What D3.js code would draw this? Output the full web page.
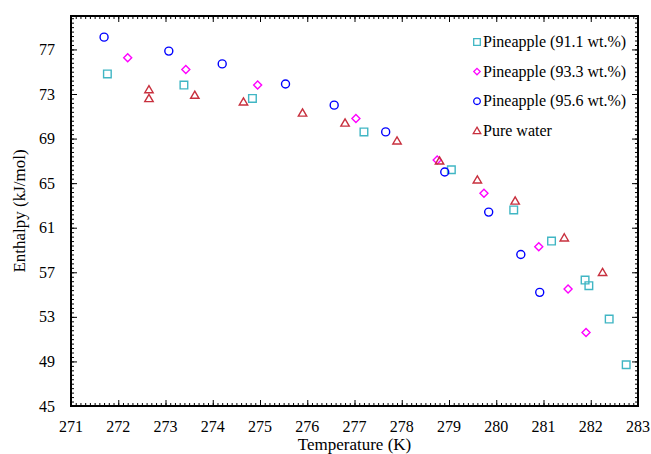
<!DOCTYPE html>
<html lang="en">
<head>
    <meta charset="utf-8">
    <title>Enthalpy vs temperature</title>
    <script type="text/javascript" src="https://cdnjs.cloudflare.com/ajax/libs/d3/7.8.5/d3.min.js"></script>
    <style type="text/css">
        body { margin: 0; background: #fff; }
        svg text { font-family: "Liberation Serif", "Times New Roman", Times, "DejaVu Serif", serif; }
    </style>
</head>
<body>
<script type="text/javascript">

    // data: [temperature K, enthalpy kJ/mol]
    var pine911 = [[271.77, 74.8], [273.39, 73.8], [274.84, 72.6], [277.2, 69.6], [279.05, 66.2],
        [280.37, 62.6], [281.17, 59.8], [281.88, 56.3], [281.96, 55.8], [282.39, 52.8], [282.75, 48.7]];
    var pine933 = [[272.2, 76.25], [273.43, 75.2], [274.95, 73.8], [277.03, 70.8], [278.75, 67.07],
        [279.74, 64.1], [280.9, 59.3], [281.52, 55.5], [281.9, 51.6]];
    var pine956 = [[271.7, 78.1], [273.07, 76.85], [274.2, 75.7], [275.54, 73.9], [276.57, 72.0],
        [277.66, 69.6], [278.91, 66.0], [279.84, 62.4], [280.52, 58.6], [280.92, 55.2]];
    var water = [[272.65, 73.4], [272.65, 72.6], [273.62, 72.9], [274.65, 72.3], [275.9, 71.3],
        [276.8, 70.4], [277.9, 68.8], [278.8, 67.0], [279.6, 65.3], [280.4, 63.4], [281.44, 60.1], [282.25, 57.0]];

    var seriesNames = ["Pineapple (91.1 wt.%)", "Pineapple (93.3 wt.%)", "Pineapple (95.6 wt.%)", "Pure water"];
    var xTicks = [271, 272, 273, 274, 275, 276, 277, 278, 279, 280, 281, 282, 283];
    var yTicks = [45, 49, 53, 57, 61, 65, 69, 73, 77];

    var series = [
        {name: seriesNames[0], data: pine911, shape: "square", color: "#40b6c4"},
        {name: seriesNames[1], data: pine933, shape: "diamond", color: "#ff00ff"},
        {name: seriesNames[2], data: pine956, shape: "circle", color: "#0000ff"},
        {name: seriesNames[3], data: water, shape: "triangle", color: "#c8303e"}
    ];

    var width = 651, height = 454;
    var margin = {top: 16, right: 13, bottom: 48, left: 71};
    var w = width - margin.left - margin.right;
    var h = height - margin.top - margin.bottom;

    var x = d3.scaleLinear().domain([271, 283]).range([0, w]);
    var y = d3.scaleLinear().domain([45, 80]).range([h, 0]);

    var svg = d3.select("body").append("svg")
        .attr("width", width)
        .attr("height", height);

    var g = svg.append("g")
        .attr("transform", "translate(" + margin.left + "," + margin.top + ")");

    // minor ticks, inward on all four sides
    var xMinor = d3.range(271, 283.001, 0.1);
    var yMinor = d3.range(45, 80.001, 0.4);

    function tickAxis(axis, ticks, len, transform) {
        var a = g.append("g").attr("transform", transform)
            .call(axis.tickValues(ticks).tickSize(len).tickFormat(""));
        a.select(".domain").remove();
        a.selectAll("line").attr("stroke", "#000").attr("stroke-width", 1);
        return a;
    }

    tickAxis(d3.axisTop(x), xMinor, 3, "translate(0," + h + ")");
    tickAxis(d3.axisBottom(x), xMinor, 3, "translate(0,0)");
    tickAxis(d3.axisRight(y), yMinor, 3, "translate(0,0)");
    tickAxis(d3.axisLeft(y), yMinor, 3, "translate(" + w + ",0)");
    tickAxis(d3.axisTop(x), xTicks, 6, "translate(0," + h + ")");
    tickAxis(d3.axisBottom(x), xTicks, 6, "translate(0,0)");
    tickAxis(d3.axisRight(y), yTicks, 6, "translate(0,0)");
    tickAxis(d3.axisLeft(y), yTicks, 6, "translate(" + w + ",0)");

    // tick labels
    g.selectAll(".xlab").data(xTicks).enter().append("text")
        .attr("x", function(d) { return x(d); })
        .attr("y", h + 26)
        .attr("text-anchor", "middle")
        .style("font-size", "16px")
        .text(function(d) { return d; });

    g.selectAll(".ylab").data(yTicks).enter().append("text")
        .attr("x", -16)
        .attr("y", function(d) { return y(d); })
        .attr("dy", "0.35em")
        .attr("text-anchor", "end")
        .style("font-size", "16px")
        .text(function(d) { return d; });

    g.append("rect")
        .attr("width", w).attr("height", h)
        .attr("fill", "none").attr("stroke", "#000").attr("stroke-width", 2);

    // axis titles
    svg.append("text")
        .attr("x", margin.left + w / 2)
        .attr("y", 450)
        .attr("text-anchor", "middle")
        .style("font-size", "17px")
        .text("Temperature (K)");

    svg.append("text")
        .attr("transform", "translate(25," + (margin.top + h / 2) + ") rotate(-90)")
        .attr("text-anchor", "middle")
        .style("font-size", "17px")
        .text("Enthalpy (kJ/mol)");

    // marker shapes, r = half size
    function shape(type, r) {
        if (type === "square") return "M" + (-r) + "," + (-r) + "h" + (2 * r) + "v" + (2 * r) + "h" + (-2 * r) + "Z";
        if (type === "diamond") return "M0," + (-r) + "L" + r + ",0L0," + r + "L" + (-r) + ",0Z";
        if (type === "circle") return "M" + r + ",0A" + r + "," + r + " 0 1,1 " + (-r) + ",0A" + r + "," + r + " 0 1,1 " + r + ",0Z";
        return "M0," + (-r) + "L" + (r * 1.05) + "," + (r * 0.8) + "L" + (-r * 1.05) + "," + (r * 0.8) + "Z";
    }
    var plotSize = {square: 3.8, diamond: 4, circle: 4, triangle: 4};
    var legendSize = {square: 3.3, diamond: 3.2, circle: 3.3, triangle: 3.6};

    series.forEach(function(s) {
        g.selectAll(null).data(s.data).enter().append("path")
            .attr("d", shape(s.shape, plotSize[s.shape]))
            .attr("transform", function(d) { return "translate(" + x(d[0]) + "," + y(d[1]) + ")"; })
            .attr("fill", "none")
            .attr("stroke", s.color)
            .attr("stroke-width", 1.4);
    });

    // legend
    var legend = svg.append("g").attr("transform", "translate(477,42)");
    var row = legend.selectAll("g").data(series).enter().append("g")
        .attr("transform", function(d, i) { return "translate(0," + (i * 29.6) + ")"; });
    row.append("path")
        .attr("d", function(d) { return shape(d.shape, legendSize[d.shape]); })
        .attr("fill", "none")
        .attr("stroke", function(d) { return d.color; })
        .attr("stroke-width", 1.3);
    row.append("text")
        .attr("x", 6)
        .attr("dy", "0.33em")
        .style("font-size", "16px")
        .text(function(d) { return d.name; });

</script>
</body>
</html>
